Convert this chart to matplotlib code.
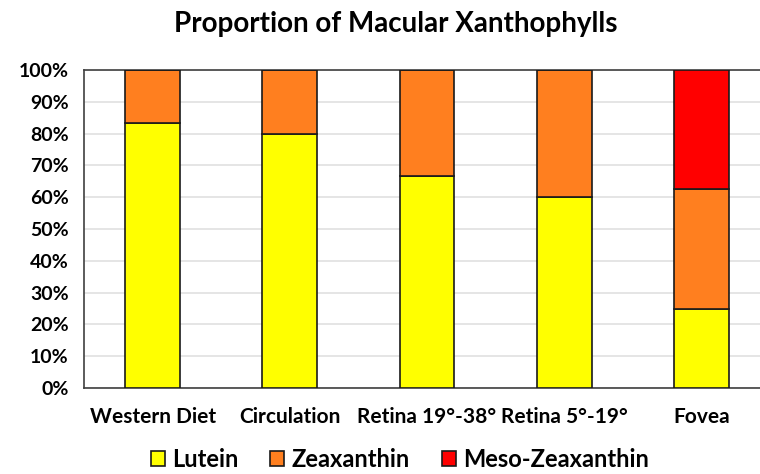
import numpy as np
import matplotlib
matplotlib.use("Agg")
import matplotlib.pyplot as plt
from matplotlib.ticker import PercentFormatter

plt.rcParams['font.family'] = ['Lato', 'DejaVu Sans']
plt.rcParams['font.weight'] = 'bold'

# data
categories = ['Western Diet', 'Circulation', 'Retina 19°-38°', 'Retina 5°-19°', 'Fovea']
lutein = [83.3, 80.0, 66.7, 60.0, 25.0]
zeaxanthin = [16.7, 20.0, 33.3, 40.0, 37.5]
meso_zeaxanthin = [0, 0, 0, 0, 37.5]
series_names = ['Lutein', 'Zeaxanthin', 'Meso-Zeaxanthin']
colors = ['#FFFF00', '#FF7F1F', '#FF0000']

fig = plt.figure(figsize=(7.6, 4.74), dpi=100)
ax = fig.add_axes([0.1105, 0.1814, 0.9026, 0.6709])

x = np.arange(len(categories))
width = 0.4
bottom = np.zeros(len(categories))
for vals, name, col in zip([lutein, zeaxanthin, meso_zeaxanthin], series_names, colors):
    vals = np.array(vals)
    ax.bar(x, vals, width, bottom=bottom, color=col, edgecolor='#1a1a1a',
           linewidth=1.2, label=name, zorder=3)
    bottom += vals

ax.set_xlim(-0.5, 4.5)
ax.set_ylim(0, 100)
ax.set_yticks(np.arange(0, 101, 10))
ax.yaxis.set_major_formatter(PercentFormatter(decimals=0))
ax.set_xticks(x)
ax.set_xticklabels(categories)
ax.tick_params(axis='both', length=0)
ax.tick_params(axis='x', pad=14, labelsize=15)
ax.tick_params(axis='y', pad=11, labelsize=14)
ax.grid(axis='y', color='#e0e0e0', linewidth=1.2, zorder=0)
for s in ax.spines.values():
    s.set_color('#404040')
    s.set_linewidth(1.2)

fig.text(0.521, 0.95, 'Proportion of Macular Xanthophylls', ha='center', va='center',
         fontsize=20, fontweight='bold')

fig.legend(loc='center', bbox_to_anchor=(0.526, 0.03), ncol=3, frameon=False,
           fontsize=17, handlelength=0.6, handleheight=0.6, handletextpad=0.3,
           columnspacing=1.35)

fig.savefig('out.png', dpi=100)
